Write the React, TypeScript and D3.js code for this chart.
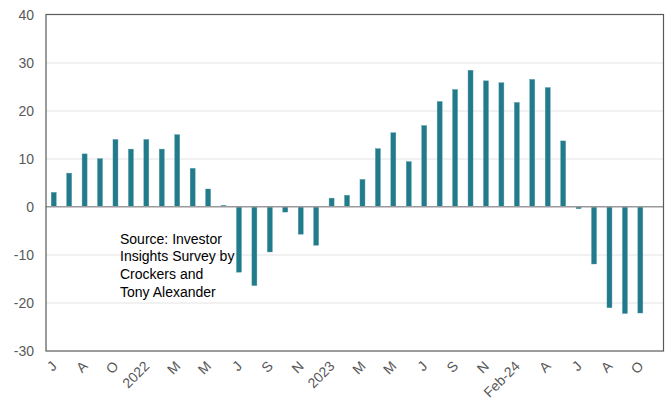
import { useEffect, useRef } from "react";
import * as d3 from "d3";

// survey months (a couple of months were skipped by the survey)
const categories = [
  "Jun-21", "Jul-21", "Aug-21", "Sep-21", "Oct-21", "Nov-21",
  "Jan-22", "Feb-22", "Mar-22", "Apr-22", "May-22", "Jun-22", "Jul-22", "Aug-22", "Sep-22", "Oct-22", "Nov-22", "Dec-22",
  "Jan-23", "Feb-23", "Mar-23", "Apr-23", "May-23", "Jun-23", "Jul-23", "Aug-23", "Sep-23", "Oct-23", "Nov-23", "Dec-23",
  "Feb-24", "Mar-24", "Apr-24", "May-24", "Jun-24", "Jul-24", "Aug-24", "Sep-24", "Oct-24", "Nov-24",
];

const values: (number | null)[] = [
  3, 7, 11, 10, 14, 12,
  14, 12, 15, 8, 3.7, 0.3, -13.6, -16.4, -9.4, -1.1, -5.7, -8,
  1.8, 2.4, 5.7, 12.1, 15.4, 9.4, 16.9, 21.9, 24.4, 28.4, 26.2, 25.8,
  21.7, 26.5, 24.8, 13.7, -0.4, -11.9, -21, -22.2, -22.1, null,
];

// every second category carries a label
const tickLabels = [
  "J", "A", "O", "2022", "M", "M", "J", "S", "N",
  "2023", "M", "M", "J", "S", "N", "Feb-24", "A", "J", "A", "O",
];

const yTicks = [-30, -20, -10, 0, 10, 20, 30, 40];

const sourceLines = ["Source: Investor", "Insights Survey by", "Crockers and", "Tony Alexander"];

const WIDTH = 671;
const HEIGHT = 400;
const FONT = "'Liberation Sans', Arial, sans-serif";

export default function App() {
  const svgRef = useRef<SVGSVGElement>(null);

  useEffect(() => {
    if (!svgRef.current) return;
    const margin = { top: 14.5, right: 7.5, bottom: 49, left: 46 };
    const chartWidth = WIDTH - margin.left - margin.right;
    const chartHeight = HEIGHT - margin.top - margin.bottom;

    const svg = d3.select(svgRef.current);
    svg.selectAll("*").remove();

    const x = d3
      .scaleBand()
      .domain(categories)
      .range([0, chartWidth])
      .paddingInner(0.676)
      .paddingOuter(0.338);

    const y = d3.scaleLinear().domain([-30, 40]).range([chartHeight, 0]);

    const root = svg.append("g").attr("transform", `translate(${margin.left},${margin.top})`);

    // gridlines
    root
      .append("g")
      .selectAll("line")
      .data(yTicks.filter((t) => t !== 0 && t !== 40 && t !== -30))
      .enter()
      .append("line")
      .attr("x1", 0)
      .attr("x2", chartWidth)
      .attr("y1", (d) => Math.round(y(d)) + 0.5)
      .attr("y2", (d) => Math.round(y(d)) + 0.5)
      .attr("stroke", "#e3e3e3")
      .attr("stroke-width", 1);

    const points = categories.map((c, i) => ({ c, v: values[i] })).filter((d) => d.v !== null) as {
      c: string;
      v: number;
    }[];

    root
      .selectAll(".bar")
      .data(points)
      .enter()
      .append("rect")
      .attr("class", "bar")
      .attr("x", (d) => x(d.c) ?? 0)
      .attr("y", (d) => y(Math.max(0, d.v)))
      .attr("width", x.bandwidth())
      .attr("height", (d) => Math.abs(y(d.v) - y(0)))
      .attr("fill", "#227b8b")
      .attr("stroke", "#4f9aa7")
      .attr("stroke-width", 0.4);

    // zero line
    root
      .append("line")
      .attr("x1", 0)
      .attr("x2", chartWidth)
      .attr("y1", y(0))
      .attr("y2", y(0))
      .attr("stroke", "#9a9a9a")
      .attr("stroke-width", 1.4);

    // plot frame
    root
      .append("rect")
      .attr("x", 0)
      .attr("y", 0)
      .attr("width", chartWidth)
      .attr("height", chartHeight)
      .attr("fill", "none")
      .attr("stroke", "#595959")
      .attr("stroke-width", 1.2);

    // y tick labels
    root
      .append("g")
      .selectAll("text")
      .data(yTicks)
      .enter()
      .append("text")
      .attr("x", -12)
      .attr("y", (d) => y(d))
      .attr("dy", "0.36em")
      .attr("text-anchor", "end")
      .attr("fill", "#595959")
      .style("font-family", FONT)
      .style("font-size", "14px")
      .text((d) => String(d));

    // x tick labels
    const tickCats = categories.filter((_, i) => i % 2 === 0);
    root
      .append("g")
      .selectAll("text")
      .data(tickCats)
      .enter()
      .append("text")
      .attr("transform", (c) => {
        const px = (x(c) ?? 0) + x.bandwidth() / 2 + 4;
        return `translate(${px},${chartHeight + 16}) rotate(-45)`;
      })
      .attr("text-anchor", "end")
      .attr("fill", "#595959")
      .style("font-family", FONT)
      .style("font-size", "14px")
      .text((_, i) => tickLabels[i]);

    // source note
    const note = svg
      .append("text")
      .attr("x", 120)
      .attr("y", 243.5)
      .attr("fill", "#000")
      .style("font-family", FONT)
      .style("font-size", "14px");
    note
      .selectAll("tspan")
      .data(sourceLines)
      .enter()
      .append("tspan")
      .attr("x", 120)
      .attr("dy", (_, i) => (i === 0 ? 0 : 17.8))
      .text((d) => d);
  }, []);

  return (
    <svg
      ref={svgRef}
      width={WIDTH}
      height={HEIGHT}
      style={{ position: "absolute", left: 0, top: 0, background: "#fff" }}
    />
  );
}
